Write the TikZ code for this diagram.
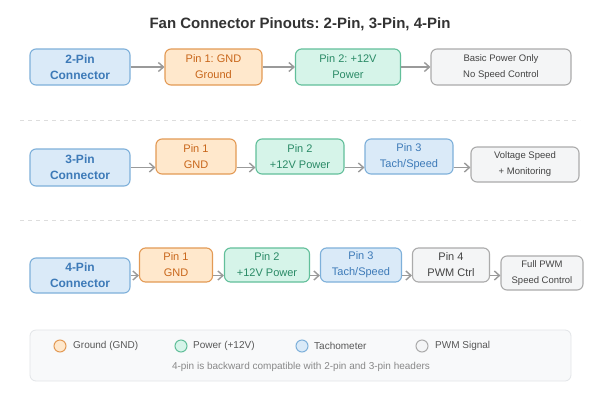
\documentclass[tikz,border=0pt]{standalone}
\usepackage{fontspec}
\setmainfont{Liberation Sans}
\usetikzlibrary{arrows.meta}
\frenchspacing
\definecolor{bluefill}{HTML}{DAEAF8}
\definecolor{bluedraw}{HTML}{7EB0DA}
\definecolor{bluetext}{HTML}{3D7AB8}
\definecolor{orfill}{HTML}{FFE8CC}
\definecolor{ordraw}{HTML}{E39A55}
\definecolor{ortext}{HTML}{C8661A}
\definecolor{grfill}{HTML}{D6F4E9}
\definecolor{grdraw}{HTML}{62BF9A}
\definecolor{grtext}{HTML}{2A8A66}
\definecolor{gyfill}{HTML}{F4F5F6}
\definecolor{gydraw}{HTML}{ABABAB}
\definecolor{gytext}{HTML}{444444}
\definecolor{arrowc}{HTML}{9A9A9A}
\definecolor{sepc}{HTML}{DDDDDD}
\definecolor{legfill}{HTML}{F8F9FA}
\definecolor{legdraw}{HTML}{E2E5E8}
\definecolor{titlec}{HTML}{333333}
\definecolor{foottext}{HTML}{888888}
\tikzset{
  box/.style={rounded corners=6pt, line width=1.1pt, align=center, inner sep=0pt},
  conn/.style={box, fill=bluefill, draw=bluedraw, text=bluetext,
    font=\fontsize{12}{16}\selectfont\bfseries, minimum width=100pt},
  gnd/.style={box, fill=orfill, draw=ordraw, text=ortext, font=\fontsize{11}{16}\selectfont},
  pwr/.style={box, fill=grfill, draw=grdraw, text=grtext, font=\fontsize{11}{16}\selectfont},
  tach/.style={box, fill=bluefill, draw=bluedraw, text=bluetext, font=\fontsize{11}{16}\selectfont},
  pwm/.style={box, fill=gyfill, draw=gydraw, text=gytext, font=\fontsize{11}{16}\selectfont},
  desc/.style={box, fill=gyfill, draw=gydraw, text=gytext, font=\fontsize{9.5}{16}\selectfont},
  flow/.style={draw=arrowc, line width=1.5pt, -{Straight Barb[length=5pt,width=9pt,line width=1.4pt]}},
  sep/.style={draw=sepc, line width=1pt, dash pattern=on 4pt off 4pt},
  legc/.style={circle, line width=1pt, minimum size=12pt, inner sep=0pt},
  legt/.style={anchor=west, text=gytext!90, font=\fontsize{10}{11}\selectfont, inner sep=0pt}
}
\begin{document}
\begin{tikzpicture}[x=1pt,y=-1pt]
\useasboundingbox[fill=white] (0,0) rectangle (600,400);
\node[text=titlec, font=\fontsize{15}{16}\selectfont\bfseries] (title) at (300,24) {Fan Connector Pinouts: 2-Pin, 3-Pin, 4-Pin};

% Row 1
\node[conn, minimum height=36pt] (c2) at (80,67) {2-Pin\\Connector};
\node[gnd, minimum width=97pt, minimum height=36pt] (a1) at (213.5,67) {Pin 1: GND\\Ground};
\node[pwr, minimum width=105pt, minimum height=36pt] (a2) at (348,67) {Pin 2: +12V\\Power};
\node[desc, minimum width=140pt, minimum height=36pt] (ad) at (501,67) {Basic Power Only\\No Speed Control};
\draw[flow] (c2.east) -- (c2.east -| a1.west);
\draw[flow] (a1.east) -- (a1.east -| a2.west);
\draw[flow] (a2.east) -- (a2.east -| ad.west);

\coordinate (s1l) at (20,120); \coordinate (s1r) at (580,120);
\draw[sep] (s1l) -- (s1r);

% Row 2
\node[conn, minimum height=37pt] (c3) at (80,167.5) {3-Pin\\Connector};
\node[gnd, minimum width=80pt, minimum height=35pt] (b1) at (196,156.5) {Pin 1\\GND};
\node[pwr, minimum width=88pt, minimum height=35pt] (b2) at (300,156.5) {Pin 2\\+12V Power};
\node[tach, minimum width=88pt, minimum height=35pt] (b3) at (409,156.5) {Pin 3\\Tach/Speed};
\node[desc, minimum width=108pt, minimum height=35pt] (bd) at (525,164.5) {Voltage Speed\\+ Monitoring};
\draw[flow] (c3.east) -- (c3.east -| b1.west);
\draw[flow] (b1.east |- c3.east) -- (c3.east -| b2.west);
\draw[flow] (b2.east |- c3.east) -- (c3.east -| b3.west);
\draw[flow] (b3.east |- c3.east) -- (c3.east -| bd.west);

\coordinate (s2l) at (20,220); \coordinate (s2r) at (580,220);
\draw[sep] (s2l) -- (s2r);

% Row 3
\node[conn, minimum height=35pt] (c4) at (80,275.5) {4-Pin\\Connector};
\node[gnd, minimum width=73pt, minimum height=34pt] (d1) at (176,265) {Pin 1\\GND};
\node[pwr, minimum width=85pt, minimum height=34pt] (d2) at (267,265) {Pin 2\\+12V Power};
\node[tach, minimum width=81pt, minimum height=34pt] (d3) at (361,265) {Pin 3\\Tach/Speed};
\node[pwm, minimum width=77pt, minimum height=34pt] (d4) at (451,265) {Pin 4\\PWM Ctrl};
\node[desc, minimum width=82pt, minimum height=34pt] (dd) at (542,273) {Full PWM\\Speed Control};
\draw[flow] (c4.east) -- (c4.east -| d1.west);
\draw[flow] (d1.east |- c4.east) -- (c4.east -| d2.west);
\draw[flow] (d2.east |- c4.east) -- (c4.east -| d3.west);
\draw[flow] (d3.east |- c4.east) -- (c4.east -| d4.west);
\draw[flow] (d4.east |- c4.east) -- (c4.east -| dd.west);

% Legend
\node[draw=legdraw, fill=legfill, rounded corners=6pt, line width=0.8pt, minimum width=541pt, minimum height=51pt, inner sep=0pt] (leg) at (300.5,355.5) {};
\node[legc, draw=ordraw, fill=orfill] (l1) at (60,346) {};
\node[legt] (t1) at (73,346) {Ground (GND)};
\node[legc, draw=grdraw, fill=grfill] (l2) at (181,346) {};
\node[legt] (t2) at (193,346) {Power (+12V)};
\node[legc, draw=bluedraw, fill=bluefill] (l3) at (302,346) {};
\node[legt] (t3) at (314,346) {Tachometer};
\node[legc, draw=gydraw, fill=gyfill] (l4) at (422,346) {};
\node[legt] (t4) at (435,346) {PWM Signal};
\node[text=foottext, font=\fontsize{10}{11}\selectfont, inner sep=0pt] (foot) at (301,367) {4-pin is backward compatible with 2-pin and 3-pin headers};
\end{tikzpicture}
\end{document}
